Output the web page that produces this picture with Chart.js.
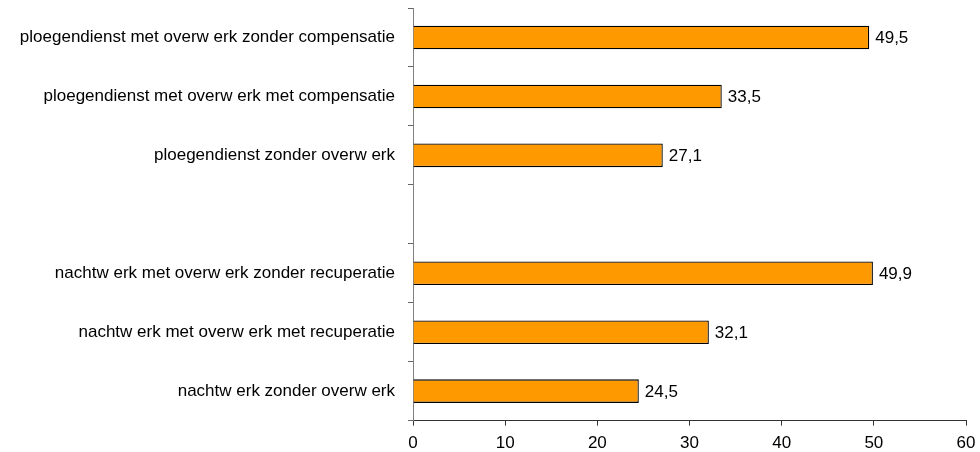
<!DOCTYPE html>
<html>
<head>
<meta charset="utf-8">
<script src="https://cdn.jsdelivr.net/npm/chart.js@4"></script>
<style>
  body { margin: 0; background: #fff; }
  #wrap { width: 980px; height: 452px; }
</style>
</head>
<body>
<div id="wrap"><canvas id="barChart"></canvas></div>
<script>
const categories = [
  'ploegendienst met overw erk zonder compensatie',
  'ploegendienst met overw erk met compensatie',
  'ploegendienst zonder overw erk',
  '',
  'nachtw erk met overw erk zonder recuperatie',
  'nachtw erk met overw erk met recuperatie',
  'nachtw erk zonder overw erk'
];
const values = [49.5, 33.5, 27.1, null, 49.9, 32.1, 24.5];
const xTicks = [0, 10, 20, 30, 40, 50, 60];

const font = { family: "'Liberation Sans', Arial, sans-serif", size: 17 };

// value labels next to the bars
const valueLabels = {
  id: 'valueLabels',
  afterDatasetsDraw(chart) {
    const c = chart.ctx;
    const meta = chart.getDatasetMeta(0);
    c.save();
    c.font = "17px 'Liberation Sans', Arial, sans-serif";
    c.fillStyle = '#000';
    c.textBaseline = 'middle';
    meta.data.forEach((bar, i) => {
      if (values[i] == null) return;
      c.fillText(values[i].toFixed(1).replace('.', ','), bar.x + 6, bar.y + 1);
    });
    c.restore();
  }
};

const ctx = document.getElementById('barChart').getContext('2d');
new Chart(ctx, {
  type: 'bar',
  data: {
    labels: categories,
    datasets: [{
      data: values,
      backgroundColor: '#FF9900',
      borderColor: '#000',
      borderWidth: 1.3,
      barPercentage: 0.4,
      categoryPercentage: 1
    }]
  },
  options: {
    indexAxis: 'y',
    responsive: true,
    maintainAspectRatio: false,
    animation: false,
    layout: { padding: { top: 8, right: 14, bottom: -10, left: 0 } },
    plugins: { legend: { display: false }, tooltip: { enabled: false } },
    scales: {
      x: {
        min: 0, max: 60,
        afterBuildTicks: s => { s.ticks = xTicks.map(v => ({ value: v })); },
        afterFit: s => { s.paddingLeft = 0; s.paddingRight = 0; },
        grid: { drawOnChartArea: false, drawTicks: true, tickLength: 5, color: '#333' },
        border: { color: '#333' },
        ticks: { font: font, color: '#000', padding: 8 }
      },
      y: {
        afterFit: s => { s.width = 413; s.paddingTop = 0; s.paddingBottom = 0; },
        grid: { drawOnChartArea: false, drawTicks: true, tickLength: 5, color: '#666', offset: true },
        border: { color: '#808080' },
        ticks: { font: font, color: '#000', padding: 13 }
      }
    }
  },
  plugins: [valueLabels]
});
</script>
</body>
</html>
